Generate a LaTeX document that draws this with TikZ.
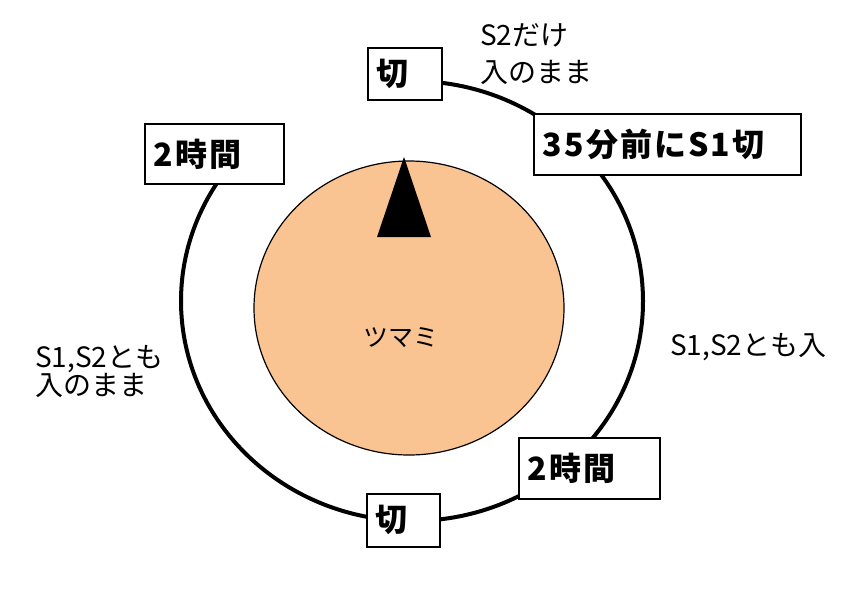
\documentclass[tikz,border=0pt]{standalone}
\usepackage{fontspec}
\setmainfont{Noto Sans CJK JP}
\newfontfamily\boxfont{Noto Sans CJK JP}[LetterSpace=6.5]
\usetikzlibrary{shapes.geometric}
\definecolor{knobfill}{RGB}{250,196,146}
\begin{document}
\begin{tikzpicture}[x=1pt,y=-1pt,
    tbox/.style={draw,fill=white,line width=1.8pt,inner xsep=9pt,inner ysep=0pt,
      anchor=north west,align=left,font=\boxfont\bfseries\fontsize{32}{36}\selectfont},
    note/.style={anchor=north west,inner sep=0pt,align=left}]
    \path[use as bounding box,fill=white] (0,0) rectangle (860,598);

    \coordinate (ringc) at (412,301);
    \draw[line width=4pt] ([shift={(93:231pt and 220pt)}]ringc)
        arc[start angle=93,end angle=-215,x radius=231pt,y radius=220pt];

    \node[ellipse,draw,line width=1.2pt,fill=knobfill,minimum width=310pt,
        minimum height=294pt,inner sep=0pt] (knob) at (409,308) {};
    \fill (404,157) -- (377,237) -- (431,237) -- cycle;
    \node[font=\fontsize{25}{27}\selectfont] (knobtext) at (401,338) {ツマミ};

    \node[tbox,text width=56pt,minimum height=52pt] (offtop) at (367,47) {切};
    \node[tbox,text width=249pt,minimum height=61pt] (s1off) at (533,113) {35分前にS1切};
    \node[tbox,text width=121pt,minimum height=60pt] (twoleft) at (144,123) {2時間};
    \node[tbox,text width=123pt,minimum height=61pt] (tworight) at (518,437) {2時間};
    \node[tbox,text width=55pt,minimum height=53pt] (offbot) at (366,493) {切};

    \node[note,font=\fontsize{28}{37}\selectfont] (s2only) at (480,23) {S2だけ\\入のまま};
    \node[note,font=\fontsize{28}{30}\selectfont] (bothon) at (670,333) {S1,S2とも入};
    \node[note,font=\fontsize{28}{28}\selectfont] (bothkeep) at (35,345) {S1,S2とも\\入のまま};
\end{tikzpicture}
\end{document}
